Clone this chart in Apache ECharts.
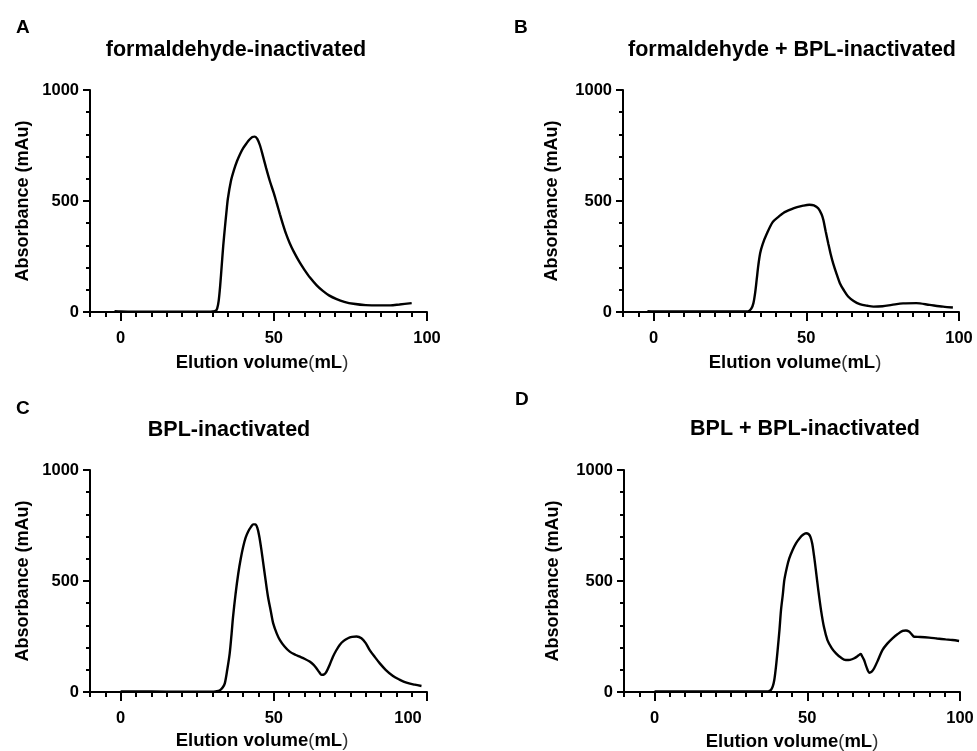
<!DOCTYPE html>
<html>
<head>
<meta charset="utf-8">
<script src="https://cdn.jsdelivr.net/npm/echarts@6/dist/echarts.min.js"></script>
<style>
html,body{margin:0;padding:0;background:#fff;}
#chart{width:977px;height:751px;}
</style>
</head>
<body>
<div id="chart"></div>
<script>
// ---- data (Elution volume in mL, Absorbance in mAu) ----
const panelLetters = ['A', 'B', 'C', 'D'];
const panelTitles = ['formaldehyde-inactivated', 'formaldehyde + BPL-inactivated', 'BPL-inactivated', 'BPL + BPL-inactivated'];
const xTickLabels = [0, 50, 100];
const yTickLabels = [0, 500, 1000];

const volA = [-2,0,5,10,15,20,25,29,30,31,31.5,32,32.5,33,33.5,34,34.5,35,36,37,38,39,40,41,42,43,43.8,44.6,45.5,46.5,47.5,48.7,50,51,52,53,54,55.2,56.5,58.5,60,61.8,64,66,68,70.5,73,76,80,85,88,91,95];
const absA = [4,2,1,1,1,1,1,1,2,5,15,50,120,210,300,375,445,510,590,640,680,712,738,758,776,788,790,780,750,700,648,590,535,488,440,394,352,310,272,222,190,155,120,95,75,58,46,37,31,30,30,34,40];

const volB = [-2,0,10,20,30,31,32,32.7,33.3,33.8,34.3,34.9,35.7,37,39,41,42.5,45,47,49,51,52.5,53.9,55,55.6,56.4,57.2,58,58.8,60,61,62.3,63.7,65.5,67.5,70,72,75,78,81.7,86,90.4,94.8,98];
const absB = [4,3,2,2,2,3,15,40,90,150,210,265,305,350,405,430,446,462,472,479,483,480,467,440,414,360,309,260,219,168,130,98,70,50,36,28,24,26,32,39,40,32,24,20];

const volC = [0,10,20,30,31,32.4,33.3,34,34.8,35.6,36.2,36.7,37.5,38.4,39.2,40,40.8,41.6,42.6,43.3,44,44.6,45.2,45.9,46.5,47.3,48.1,49,49.8,51,52,53.5,55.2,57,58.5,60,61.7,63,63.9,64.8,65.6,66.5,67.2,68.3,69.3,70.4,71.5,72.8,74.2,75.5,77,78.6,80,81.3,83,84.6,86.5,88.9,91,93.3,96,98.2];
const absC = [3,2,1,1,3,8,20,39,100,174,260,339,440,534,600,654,695,722,745,755,755,740,705,645,585,505,429,365,309,262,234,205,182,168,159,150,137,122,107,90,77,80,92,125,159,188,212,230,242,248,250,242,220,189,157,129,100,72,56,42,33,27];

const volD = [0,10,20,30,36.5,37.4,38.1,38.7,39.2,39.8,40.3,40.9,41.4,42,42.5,43.3,44.1,45.2,46.3,47.5,48.6,49.6,50.4,51,51.6,52.2,52.8,53.6,54.5,55.5,56.6,58,59.4,61,62.6,64,65.4,66.8,67.5,68,68.6,69.4,70.3,71.1,71.9,73.2,74.6,76.2,77.9,79.5,81.2,82.3,83.3,84.2,85,87,89.9,92.5,95.3,97.5,99.7];
const absD = [2,2,2,2,2,4,9,25,54,120,189,280,369,440,505,560,602,640,670,693,708,715,712,700,670,615,550,460,369,290,234,198,174,155,144,145,152,165,171,160,144,112,87,92,107,145,189,218,242,260,275,277,272,260,249,248,245,241,237,234,230];

const volumes = [volA, volB, volC, volD];
const absorb = [absA, absB, absC, absD];

// ---- layout ----
const grids = [
  {left: 90, top: 90, width: 337, height: 222},
  {left: 623, top: 90, width: 336, height: 222},
  {left: 90, top: 470, width: 337, height: 222},
  {left: 624, top: 470, width: 336, height: 222}
];
const letterPos = [[16, 28], [514, 28], [16, 409], [515, 400]];
const titlePos = [[236, 50], [792, 50], [229, 430], [805, 429]];
const yNamePos = [[23, 201], [552, 201], [23, 581], [553, 581]];
const xNamePos = [[262, 363], [795, 363], [262, 741], [792, 742]];

const FONT = '"Liberation Sans", Arial, sans-serif';
const axisColor = '#000';

const xAxes = [], yAxes = [], series = [], graphics = [];
grids.forEach((g, i) => {
  const cPanel = (i === 2);
  xAxes.push({
    gridIndex: i, type: 'value', position: 'bottom', min: -10, max: 100, interval: 5,
    axisLine: {show: true, onZero: false, lineStyle: {color: axisColor, width: 2}},
    axisTick: {show: true, length: 5, lineStyle: {color: axisColor, width: 2}},
    splitLine: {show: false},
    axisLabel: {
      show: true, margin: 18, color: '#000', fontFamily: FONT, fontWeight: 'bold', fontSize: 16.5,
      formatter: function (v) {
        if (xTickLabels.indexOf(v) < 0) return '';
        if (cPanel && v === 100) return '{s|' + v + '}';
        return String(v);
      },
      rich: {s: {fontFamily: FONT, fontWeight: 'bold', fontSize: 16.5, color: '#000', padding: [0, 38, 0, 0]}}
    }
  });
  xAxes.push({
    gridIndex: i, type: 'value', position: 'bottom', min: -10, max: 100, interval: 5,
    axisLine: {show: false, onZero: false},
    axisTick: {show: true, length: 9, customValues: xTickLabels, lineStyle: {color: axisColor, width: 2}},
    axisLabel: {show: false},
    splitLine: {show: false}
  });
  yAxes.push({
    gridIndex: i, type: 'value', min: 0, max: 1000, interval: 500,
    axisLine: {show: true, onZero: false, lineStyle: {color: axisColor, width: 2}},
    axisTick: {show: true, length: 7, lineStyle: {color: axisColor, width: 2}},
    minorTick: {show: true, splitNumber: 5, length: 4, lineStyle: {color: axisColor, width: 2}},
    splitLine: {show: false},
    axisLabel: {show: true, margin: 11, color: '#000', fontFamily: FONT, fontWeight: 'bold', fontSize: 16.5,
      formatter: v => (yTickLabels.indexOf(v) >= 0 ? String(v) : '')}
  });
  series.push({
    type: 'line', xAxisIndex: i * 2, yAxisIndex: i,
    data: volumes[i].map((x, k) => [x, absorb[i][k]]),
    showSymbol: false, smooth: 0.3, silent: true,
    lineStyle: {color: '#000', width: 2.4}
  });
  graphics.push({type: 'text', x: letterPos[i][0], y: letterPos[i][1],
    style: {text: panelLetters[i], font: 'bold 19px ' + FONT, fill: '#000', align: 'left', verticalAlign: 'middle'}});
  graphics.push({type: 'text', x: titlePos[i][0], y: titlePos[i][1],
    style: {text: panelTitles[i], font: 'bold 21.5px ' + FONT, fill: '#000', align: 'center', verticalAlign: 'middle'}});
  graphics.push({type: 'text', x: yNamePos[i][0], y: yNamePos[i][1], rotation: Math.PI / 2,
    style: {text: 'Absorbance (mAu)', font: 'bold 18px ' + FONT, fill: '#000', align: 'center', verticalAlign: 'middle'}});
  graphics.push({type: 'text', x: xNamePos[i][0], y: xNamePos[i][1],
    style: {text: '{b|Elution volume}{p|(}{b|mL}{p|)}', align: 'center', verticalAlign: 'middle',
      rich: {
        b: {font: 'bold 18.5px ' + FONT, fill: '#000'},
        p: {font: 'normal 18.5px ' + FONT, fill: '#333'}
      }}});
});

const chart = echarts.init(document.getElementById('chart'), null, {renderer: 'canvas'});
chart.setOption({
  animation: false,
  backgroundColor: '#fff',
  grid: grids.map(g => Object.assign({containLabel: false}, g)),
  xAxis: xAxes,
  yAxis: yAxes,
  series: series,
  graphic: graphics
});
</script>
</body>
</html>
